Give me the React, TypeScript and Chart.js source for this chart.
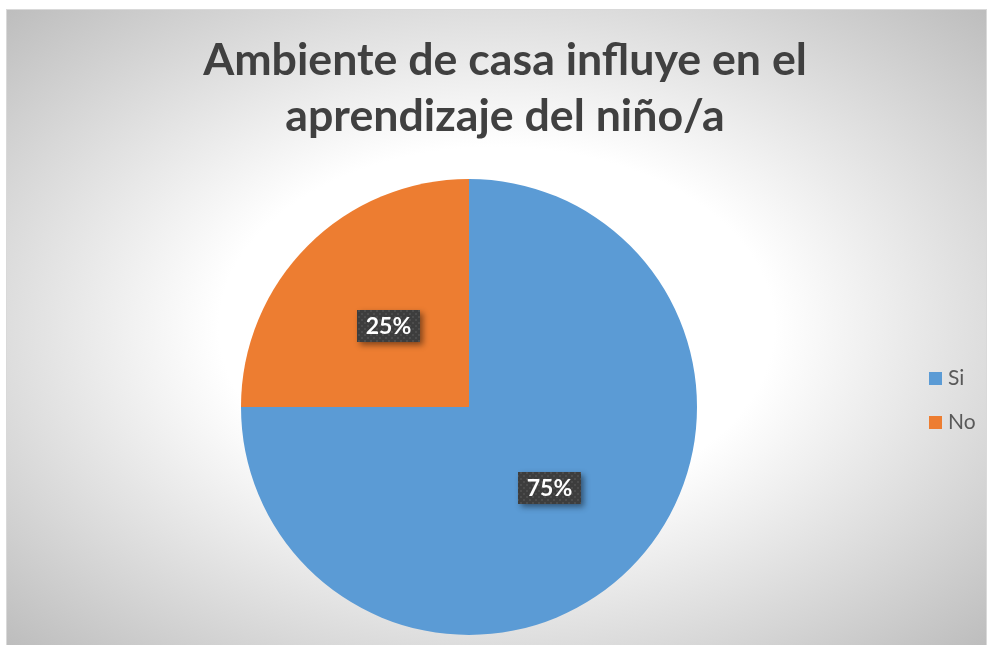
import React, { useEffect, useRef } from "react";
import { Chart, registerables } from "chart.js";

Chart.register(...registerables);

const titleLines = ["Ambiente de casa influye en el", "aprendizaje del niño/a"];
const categories = ["Si", "No"];
const values = [75, 25];
const colors = ["#5B9BD5", "#ED7D31"];

const W = 990;
const H = 645;

function makeDotPattern(ctx: CanvasRenderingContext2D) {
  const c = document.createElement("canvas");
  c.width = 6;
  c.height = 6;
  const p = c.getContext("2d")!;
  p.fillStyle = "#3d3d3d";
  p.fillRect(0, 0, 6, 6);
  p.fillStyle = "#4c4c4c";
  p.fillRect(1, 1, 2, 2);
  p.fillRect(4, 4, 2, 2);
  return ctx.createPattern(c, "repeat");
}

const backgroundPlugin = {
  id: "bgPlugin",
  beforeDraw(chart: any) {
    const ctx = chart.ctx as CanvasRenderingContext2D;
    ctx.save();
    ctx.fillStyle = "#ffffff";
    ctx.fillRect(0, 0, W, H);
    const x0 = 6, y0 = 9, x1 = 987, y1 = 645;
    const bw = x1 - x0, bh = y1 - y0;
    const cx = (x0 + x1) / 2, cy = (y0 + y1) / 2;
    ctx.save();
    ctx.beginPath();
    ctx.rect(x0, y0, bw, bh);
    ctx.clip();
    ctx.translate(cx, cy);
    ctx.scale(1, bh / bw);
    const r = (bw / 2) * Math.SQRT2;
    const g = ctx.createRadialGradient(0, 0, 0, 0, 0, r);
    g.addColorStop(0, "#ffffff");
    g.addColorStop(0.4, "#ffffff");
    g.addColorStop(1, "#bdbdbd");
    ctx.fillStyle = g;
    ctx.fillRect(-r, -r, 2 * r, 2 * r);
    ctx.restore();
    ctx.strokeStyle = "#d9d9d9";
    ctx.lineWidth = 1;
    ctx.strokeRect(x0 + 0.5, y0 + 0.5, bw - 1, bh);
    ctx.restore();
  },
  afterDraw(chart: any) {
    const ctx = chart.ctx as CanvasRenderingContext2D;
    ctx.save();
    // Title
    ctx.fillStyle = "#404040";
    ctx.textAlign = "center";
    ctx.textBaseline = "alphabetic";
    ctx.font = "bold 100px Lato";
    const w1 = ctx.measureText(titleLines[0]).width;
    const size = (100 * 604) / w1;
    ctx.font = `bold ${size}px Lato`;
    ctx.fillText(titleLines[0], 505, 75);
    ctx.fillText(titleLines[1], 505, 131);

    // Legend
    ctx.textAlign = "left";
    ctx.font = "21px Lato";
    const labels = chart.data.labels as string[];
    const bg = chart.data.datasets[0].backgroundColor as string[];
    labels.forEach((lab, i) => {
      const y = 372 + i * 44;
      ctx.fillStyle = bg[i];
      ctx.fillRect(929, y, 13, 13);
      ctx.fillStyle = "#595959";
      ctx.fillText(lab, 948, y + 13);
    });

    // Data labels
    const meta = chart.getDatasetMeta(0);
    const data = chart.data.datasets[0].data as number[];
    const total = data.reduce((a, b) => a + b, 0);
    const pattern = makeDotPattern(ctx);
    ctx.font = "bold 23px Lato";
    meta.data.forEach((arc: any, i: number) => {
      const pos = arc.tooltipPosition();
      const txt = `${Math.round((data[i] / total) * 100)}%`;
      const bw = 63, bh = 32;
      const bx = Math.round(pos.x - bw / 2);
      const by = Math.round(pos.y - bh / 2);
      ctx.save();
      ctx.shadowColor = "rgba(0,0,0,0.45)";
      ctx.shadowBlur = 6;
      ctx.shadowOffsetX = 3;
      ctx.shadowOffsetY = 3;
      ctx.fillStyle = "#3d3d3d";
      ctx.fillRect(bx, by, bw, bh);
      ctx.restore();
      if (pattern) {
        ctx.fillStyle = pattern;
        ctx.fillRect(bx, by, bw, bh);
      }
      ctx.fillStyle = "#ffffff";
      ctx.textAlign = "center";
      ctx.textBaseline = "middle";
      ctx.fillText(txt, bx + bw / 2, by + bh / 2 + 1);
    });
    ctx.restore();
  },
};

export default function App() {
  const ref = useRef<HTMLCanvasElement | null>(null);
  useEffect(() => {
    if (!ref.current) return;
    const chart = new Chart(ref.current, {
      type: "pie",
      data: {
        labels: categories,
        datasets: [
          {
            data: values,
            backgroundColor: colors,
            borderWidth: 0,
          },
        ],
      },
      options: {
        responsive: false,
        animation: false,
        layout: { padding: { left: 241, right: 293, top: 179, bottom: 10 } },
        plugins: {
          legend: { display: false },
          title: { display: false },
          tooltip: { enabled: false },
        },
      },
      plugins: [backgroundPlugin],
    });
    return () => chart.destroy();
  }, []);
  return (
    <div style={{ position: "fixed", left: 0, top: 0, width: W, height: H }}>
      <canvas ref={ref} width={W} height={H} style={{ display: "block" }} />
    </div>
  );
}
